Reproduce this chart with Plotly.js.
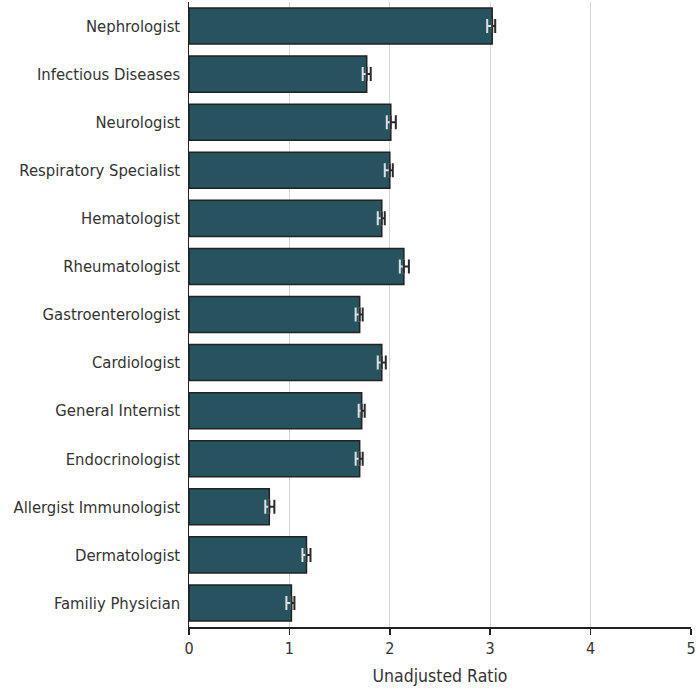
<!DOCTYPE html>
<html>
<head>
<meta charset="utf-8">
<script src="https://cdn.plot.ly/plotly-3.0.1.min.js"></script>
<style>
  html, body { margin: 0; padding: 0; background: #ffffff; }
  #chart { width: 697px; height: 688px; }
</style>
</head>
<body>
<div id="chart"></div>
<script>
// Unadjusted ratio by physician specialty, with 95% CI bounds
const specialties = [
  "Nephrologist",
  "Infectious Diseases",
  "Neurologist",
  "Respiratory Specialist",
  "Hematologist",
  "Rheumatologist",
  "Gastroenterologist",
  "Cardiologist",
  "General Internist",
  "Endocrinologist",
  "Allergist Immunologist",
  "Dermatologist",
  "Familiy Physician"
];
const ratio  = [3.02, 1.77, 2.01, 2.00, 1.92, 2.14, 1.70, 1.92, 1.72, 1.70, 0.80, 1.17, 1.02];
const ciLow  = [2.97, 1.73, 1.97, 1.95, 1.88, 2.10, 1.66, 1.88, 1.69, 1.66, 0.76, 1.13, 0.97];
const ciHigh = [3.05, 1.81, 2.06, 2.03, 1.95, 2.19, 1.73, 1.96, 1.75, 1.73, 0.85, 1.21, 1.05];
const xTicks = [0, 1, 2, 3, 4, 5];

const FONT = "DejaVu Sans Condensed, DejaVu Sans, sans-serif";
const TEXT = "#333333";

const lowerErr = ratio.map((v, i) => +(v - ciLow[i]).toFixed(3));
const upperErr = ratio.map((v, i) => +(ciHigh[i] - v).toFixed(3));
const zeros = ratio.map(() => 0);

const bars = {
  type: "bar",
  orientation: "h",
  x: ratio,
  y: specialties,
  width: 0.75,
  marker: { color: "#27535E", line: { color: "#222222", width: 1.5 } },
  hoverinfo: "x+y"
};

// lower half of the interval, drawn inside the bar in a light tone
const ciInside = {
  type: "scatter",
  mode: "markers",
  x: ratio,
  y: specialties,
  marker: { size: 1, opacity: 0 },
  error_x: {
    type: "data", symmetric: false,
    array: zeros, arrayminus: lowerErr,
    color: "#D8E2E4", thickness: 2, width: 7
  },
  hoverinfo: "skip"
};

// upper half of the interval, drawn beyond the bar end in a dark tone
const ciOutside = {
  type: "scatter",
  mode: "markers",
  x: ratio,
  y: specialties,
  marker: { size: 1, opacity: 0 },
  error_x: {
    type: "data", symmetric: false,
    array: upperErr, arrayminus: zeros,
    color: "#2a2a2a", thickness: 2, width: 7
  },
  hoverinfo: "skip"
};

const layout = {
  width: 697,
  height: 688,
  margin: { l: 189, r: 6, t: 2, b: 61 },
  paper_bgcolor: "#ffffff",
  plot_bgcolor: "#ffffff",
  showlegend: false,
  font: { family: FONT, color: TEXT, size: 16 },
  xaxis: {
    range: [0, 5],
    tickvals: xTicks,
    ticktext: xTicks.map(String),
    showgrid: true,
    gridcolor: "#d9d5d5",
    gridwidth: 1,
    zeroline: false,
    showline: true,
    linecolor: "#222222",
    linewidth: 1.5,
    ticks: "outside",
    ticklen: 6,
    tickwidth: 1.5,
    tickcolor: "#222222",
    tickfont: { family: FONT, size: 16, color: TEXT },
    title: { text: "Unadjusted Ratio", font: { family: FONT, size: 17.5, color: TEXT }, standoff: 13 },
    fixedrange: true
  },
  yaxis: {
    type: "category",
    categoryorder: "array",
    categoryarray: specialties,
    range: [specialties.length - 0.5, -0.5],
    showgrid: false,
    zeroline: false,
    showline: true,
    linecolor: "#222222",
    linewidth: 1.5,
    ticks: "",
    ticklabelstandoff: 4,
    tickfont: { family: FONT, size: 16.5, color: TEXT },
    fixedrange: true
  }
};

Plotly.newPlot("chart", [bars, ciInside, ciOutside], layout, { displayModeBar: false, staticPlot: true });
</script>
</body>
</html>
